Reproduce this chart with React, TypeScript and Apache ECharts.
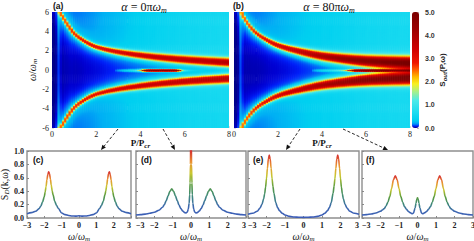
import React, { useEffect, useRef } from 'react';
import * as echarts from 'echarts';

// ---------- heat-map data (a) and (b) ----------
const P_KNOTS = [0.25, 0.35, 0.5, 0.75, 1, 1.5, 2, 3, 4, 5, 6, 7, 8];
const RIDGE_A = [7.4, 6.1, 5.5, 4.6, 3.85, 3.0, 2.45, 1.92, 1.58, 1.32, 1.12, 0.96, 0.83];
const RIDGE_B = [7.4, 6.0, 5.3, 4.5, 3.9, 3.15, 2.6, 1.97, 1.5, 1.2, 0.98, 0.85, 0.76];
const PEAK_A = [2.15, 2.15, 2.2, 2.25, 2.35, 2.5, 2.65, 2.85, 2.95, 3.0, 3.05, 3.1, 3.15];
const PEAK_B = [2.1, 2.1, 2.15, 2.25, 2.4, 2.6, 2.85, 3.2, 3.5, 3.8, 4.1, 4.3, 4.5];
const WIDTH_A = [0.85, 0.85, 0.9, 1.0, 1.15, 1.4, 1.65, 2.1, 2.45, 2.7, 2.9, 3.0, 3.1];
const WIDTH_B = [0.85, 0.85, 0.9, 1.05, 1.25, 1.6, 2.0, 2.6, 3.1, 3.5, 3.9, 4.2, 4.4];
const BG_P = [0, 0.5, 1, 2, 3, 4, 5, 6, 7, 8];
const BG_IN_A = [0, 0.005, 0.01, 0.025, 0.05, 0.08, 0.11, 0.14, 0.16, 0.18];
const BG_OUT_A = [0, 0.07, 0.12, 0.19, 0.27, 0.36, 0.44, 0.5, 0.55, 0.58];
const BG_IN_B = [0, 0.005, 0.01, 0.02, 0.04, 0.07, 0.11, 0.15, 0.19, 0.23];
const BG_OUT_B = [0, 0.07, 0.13, 0.21, 0.3, 0.38, 0.45, 0.52, 0.56, 0.6];
const CENTER_P_A = [2.8, 3.3, 3.7, 4.0, 4.15, 4.4, 5.0, 5.5, 5.75, 5.95, 6.3, 7];
const CENTER_A = [0, 0.3, 0.8, 2.0, 4.5, 5.8, 6, 5.8, 4.0, 1.0, 0.3, 0];
const CENTER_P_B = [3.5, 4.3, 5.0, 5.3, 5.6, 6.0, 6.5, 6.8, 7.2, 7.6, 8];
const CENTER_B = [0, 0.6, 1.4, 3.5, 5.6, 6, 6, 5.2, 3.5, 3.0, 3.0];
const HEAT_X_TICKS = [0, 2, 4, 6, 8];
const HEAT_Y_TICKS = [-6, -4, -2, 0, 2, 4, 6];
const CBAR_TICKS = [0, 1, 2, 3, 4, 5];

// ---------- spectra (c)-(f) ----------
const OMEGA_C = [-3, -2.75, -2.5, -2.3, -2.2, -2.1, -2.0, -1.95, -1.9, -1.85, -1.8, -1.75, -1.7, -1.65, -1.6, -1.55, -1.5, -1.4, -1.3, -1.2, -1.0, -0.8, -0.6, -0.4, -0.2, 0, 0.2, 0.4, 0.6, 0.8, 1.0, 1.2, 1.3, 1.4, 1.5, 1.55, 1.6, 1.65, 1.7, 1.75, 1.8, 1.85, 1.9, 1.95, 2.0, 2.1, 2.2, 2.3, 2.5, 2.75, 3];
const S_C = [0.065, 0.08, 0.1, 0.14, 0.18, 0.24, 0.32, 0.39, 0.47, 0.57, 0.65, 0.69, 0.66, 0.58, 0.49, 0.41, 0.35, 0.25, 0.19, 0.145, 0.075, 0.05, 0.037, 0.03, 0.028, 0.033, 0.028, 0.03, 0.037, 0.05, 0.075, 0.145, 0.19, 0.25, 0.35, 0.41, 0.49, 0.58, 0.66, 0.69, 0.65, 0.57, 0.47, 0.39, 0.32, 0.24, 0.18, 0.14, 0.1, 0.08, 0.065];
const OMEGA_D = [-3, -2.75, -2.5, -2.25, -2.0, -1.75, -1.55, -1.45, -1.35, -1.25, -1.15, -1.05, -0.95, -0.85, -0.75, -0.65, -0.55, -0.45, -0.35, -0.27, -0.2, -0.15, -0.1, -0.07, -0.05, -0.03, -0.015, 0, 0.015, 0.03, 0.05, 0.07, 0.1, 0.15, 0.2, 0.27, 0.35, 0.45, 0.55, 0.65, 0.75, 0.85, 0.95, 1.05, 1.15, 1.25, 1.35, 1.45, 1.55, 1.75, 2.0, 2.25, 2.5, 2.75, 3];
const S_D = [0.045, 0.05, 0.058, 0.07, 0.085, 0.115, 0.16, 0.2, 0.26, 0.33, 0.4, 0.435, 0.4, 0.33, 0.26, 0.19, 0.14, 0.105, 0.08, 0.075, 0.09, 0.13, 0.22, 0.35, 0.52, 0.8, 1.15, 1.4, 1.15, 0.8, 0.52, 0.35, 0.22, 0.13, 0.09, 0.075, 0.08, 0.105, 0.14, 0.19, 0.26, 0.33, 0.4, 0.435, 0.4, 0.33, 0.26, 0.2, 0.16, 0.115, 0.085, 0.07, 0.058, 0.05, 0.045];
const OMEGA_E = [-3, -2.75, -2.5, -2.35, -2.25, -2.15, -2.1, -2.05, -2.0, -1.95, -1.9, -1.85, -1.8, -1.75, -1.7, -1.65, -1.6, -1.5, -1.4, -1.3, -1.15, -1.0, -0.75, -0.5, -0.25, 0, 0.25, 0.5, 0.75, 1.0, 1.15, 1.3, 1.4, 1.5, 1.6, 1.65, 1.7, 1.75, 1.8, 1.85, 1.9, 1.95, 2.0, 2.05, 2.1, 2.15, 2.25, 2.35, 2.5, 2.75, 3];
const S_E = [0.055, 0.07, 0.1, 0.15, 0.2, 0.29, 0.36, 0.46, 0.59, 0.74, 0.88, 0.94, 0.88, 0.74, 0.59, 0.47, 0.37, 0.23, 0.155, 0.11, 0.07, 0.045, 0.025, 0.015, 0.011, 0.01, 0.011, 0.015, 0.025, 0.045, 0.07, 0.11, 0.155, 0.23, 0.37, 0.47, 0.59, 0.74, 0.88, 0.94, 0.88, 0.74, 0.59, 0.46, 0.36, 0.29, 0.2, 0.15, 0.1, 0.07, 0.055];
const OMEGA_F = [-3, -2.75, -2.5, -2.25, -2.0, -1.9, -1.8, -1.7, -1.6, -1.5, -1.4, -1.3, -1.2, -1.1, -1.0, -0.9, -0.8, -0.7, -0.6, -0.5, -0.4, -0.3, -0.22, -0.13, -0.08, -0.04, 0, 0.04, 0.08, 0.13, 0.22, 0.3, 0.4, 0.5, 0.6, 0.7, 0.8, 0.9, 1.0, 1.1, 1.2, 1.3, 1.4, 1.5, 1.6, 1.7, 1.8, 1.9, 2.0, 2.25, 2.5, 2.75, 3];
const S_F = [0.045, 0.05, 0.06, 0.075, 0.1, 0.12, 0.14, 0.18, 0.235, 0.32, 0.44, 0.57, 0.63, 0.57, 0.44, 0.32, 0.235, 0.17, 0.13, 0.1, 0.08, 0.065, 0.07, 0.15, 0.22, 0.28, 0.3, 0.28, 0.22, 0.15, 0.07, 0.065, 0.08, 0.1, 0.13, 0.17, 0.235, 0.32, 0.44, 0.57, 0.63, 0.57, 0.44, 0.32, 0.235, 0.18, 0.14, 0.12, 0.1, 0.075, 0.06, 0.05, 0.045];
const SPEC_X_TICKS = [-3, -2, -1, 0, 1, 2, 3];
const SPEC_Y_TICKS = [0, 0.2, 0.4, 0.6, 0.8, 1.0];
const SPEC_PANELS = [
  { label: '(c)', omega: OMEGA_C, s: S_C, top: 0.69 },
  { label: '(d)', omega: OMEGA_D, s: S_D, top: 1.0 },
  { label: '(e)', omega: OMEGA_E, s: S_E, top: 0.94 },
  { label: '(f)', omega: OMEGA_F, s: S_F, top: 0.63 },
];

// ---------- styling ----------
const JET_STOPS: [number, string][] = [
  [0.0, '#000080'], [0.04, '#0000d0'], [0.08, '#0020f8'], [0.14, '#0070f8'], [0.22, '#00b0f4'],
  [0.35, '#00d0f0'], [0.7, '#20dcf0'], [1.2, '#50eae8'], [1.6, '#b0f080'], [1.9, '#f8f020'],
  [2.2, '#ffb800'], [2.5, '#ff6000'], [2.8, '#f01800'], [3.4, '#d00000'], [4.2, '#a00000'], [5.0, '#7a0000'],
];
const LINE_COLORS = ['#3c5bb8', '#3d67b0', '#3f8a78', '#5c9c3c', '#c9c832', '#ea9332', '#d63030'];
const SERIF = 'Liberation Serif';
const SANS = 'Liberation Sans';
const HEAT_GRIDS = [
  { left: 52, top: 12, width: 177, height: 116 },
  { left: 234, top: 12, width: 176, height: 116 },
];
const SPEC_GRIDS = [
  { left: 27, top: 151, width: 104, height: 67 },
  { left: 136, top: 151, width: 110, height: 67 },
  { left: 248, top: 151, width: 111, height: 67 },
  { left: 362, top: 151, width: 111, height: 67 },
];
const CBAR = { left: 412, top: 12, width: 7, height: 116 };
const ARROWS = [[118, 129, 101, 150], [163, 129, 175, 150], [300, 129, 286, 150], [343, 129, 388, 150]];
const LABEL_POS = [[33, 160], [141, 160], [253, 160], [366, 160]];

function hex(c: string) { return [1, 3, 5].map((i) => parseInt(c.slice(i, i + 2), 16)); }
function jetColors() {
  const out: string[] = [];
  for (let k = 0; k <= 250; k++) {
    const v = (k / 250) * 5;
    let i = 0;
    while (i < JET_STOPS.length - 2 && v > JET_STOPS[i + 1][0]) i++;
    const [v0, c0] = JET_STOPS[i], [v1, c1] = JET_STOPS[i + 1];
    const t = Math.min(1, Math.max(0, (v - v0) / (v1 - v0)));
    const a = hex(c0), b = hex(c1);
    out.push('rgb(' + a.map((x, j) => Math.round(x + (b[j] - x) * t)).join(',') + ')');
  }
  return out;
}

function interp(xs: number[], ys: number[], x: number): number {
  const n = xs.length;
  if (x <= xs[0]) return ys[0];
  if (x >= xs[n - 1]) return ys[n - 1];
  let i = 0;
  while (x > xs[i + 1]) i++;
  const h = xs[i + 1] - xs[i];
  const t = (x - xs[i]) / h;
  const d = (k: number) => {
    if (k === 0) return (ys[1] - ys[0]) / (xs[1] - xs[0]);
    if (k === n - 1) return (ys[n - 1] - ys[n - 2]) / (xs[n - 1] - xs[n - 2]);
    const s0 = (ys[k] - ys[k - 1]) / (xs[k] - xs[k - 1]);
    const s1 = (ys[k + 1] - ys[k]) / (xs[k + 1] - xs[k]);
    if (s0 * s1 <= 0) return 0;
    return 2 / (1 / s0 + 1 / s1);
  };
  const m0 = d(i) * h, m1 = d(i + 1) * h;
  const t2 = t * t, t3 = t2 * t;
  return (2 * t3 - 3 * t2 + 1) * ys[i] + (t3 - 2 * t2 + t) * m0 + (-2 * t3 + 3 * t2) * ys[i + 1] + (t3 - t2) * m1;
}

const DP = 0.1, DW = 0.1;
const PX_P = 177 / 8, PX_W = 116 / 12;
function ridgeAt(P: number, W: number, ridge: number[], peak: number[], width: number[]) {
  const r = interp(P_KNOTS, ridge, P);
  const slope = (interp(P_KNOTS, ridge, P + 0.05) - interp(P_KNOTS, ridge, P - 0.05)) / 0.1;
  const s = (slope * PX_W) / PX_P;
  const norm = Math.sqrt(1 + s * s);
  const A = interp(P_KNOTS, peak, P), sg = interp(P_KNOTS, width, P);
  let v = 0;
  for (const sign of [1, -1]) {
    const d = (Math.abs(W - sign * r) * PX_W) / norm;
    v += A * Math.exp(-(d * d) / (2 * sg * sg)) + 0.28 / (1 + (d / 5) * (d / 5));
  }
  return v;
}
function buildHeat(ridge: number[], peak: number[], width: number[], bgIn: number[], bgOut: number[], cP: number[], cA: number[]) {
  const data: number[][] = [];
  for (let i = 0; i <= 80; i++) {
    const P = i * DP;
    const r = interp(P_KNOTS, ridge, P);
    const bi = interp(BG_P, bgIn, P), bo = interp(BG_P, bgOut, P);
    const c = interp(cP, cA, P);
    for (let j = 0; j <= 120; j++) {
      const W = -6 + j * DW;
      let v = 0;
      for (const off of [-0.03, 0, 0.03]) {
        for (const wo of [-0.025, 0, 0.025]) v = Math.max(v, ridgeAt(P + off, W + wo, ridge, peak, width));
      }
      const t = 1 / (1 + Math.exp(-(Math.abs(W) - r) / 0.35));
      v += bi + (bo - bi) * t;
      v += c * Math.exp(-(W * W) / (2 * 0.08 * 0.08));
      data.push([P, +W.toFixed(2), Math.max(0, v)]);
    }
  }
  return data;
}

const minusFmt = (v: number) => (v < 0 ? '\u2212' + Math.abs(v) : String(v));

export default function App() {
  const ref = useRef<HTMLDivElement>(null);
  useEffect(() => {
    if (!ref.current) return;
    const chart = echarts.init(ref.current, undefined, { renderer: 'svg' });
    const heatA = buildHeat(RIDGE_A, PEAK_A, WIDTH_A, BG_IN_A, BG_OUT_A, CENTER_P_A, CENTER_A);
    const heatB = buildHeat(RIDGE_B, PEAK_B, WIDTH_B, BG_IN_B, BG_OUT_B, CENTER_P_B, CENTER_B);

    const italicRich = {
      i: { fontStyle: 'italic', fontFamily: SERIF, fontSize: 10, color: '#111' },
      s: { fontStyle: 'italic', fontFamily: SERIF, fontSize: 7, color: '#111', padding: [5, 0, 0, 0] },
      b: { fontWeight: 'bold', fontFamily: SERIF, fontSize: 9, color: '#111' },
      bs: { fontWeight: 'bold', fontStyle: 'italic', fontFamily: SERIF, fontSize: 7, color: '#111', padding: [5, 0, 0, 0] },
      n: { fontFamily: SERIF, fontSize: 10, color: '#111' },
    };

    const grids: any[] = [];
    const xAxes: any[] = [];
    const yAxes: any[] = [];
    const series: any[] = [];
    const visualMaps: any[] = [];

    HEAT_GRIDS.forEach((g, k) => {
      grids.push({ ...g, outerBoundsMode: 'none', containLabel: false, show: false });
      xAxes.push({
        gridIndex: k, type: 'value', position: 'bottom', min: HEAT_X_TICKS[0], max: HEAT_X_TICKS[HEAT_X_TICKS.length - 1], interval: 2,
        axisLine: { show: false, onZero: false }, splitLine: { show: false },
        axisTick: { inside: true, length: 2, lineStyle: { color: '#ddd' } },
        axisLabel: { fontFamily: SERIF, fontSize: 8, color: '#222', margin: 2 },
        name: '{b|P/P}{bs|cr}', nameLocation: 'middle', nameGap: 8,
        nameTextStyle: { rich: italicRich },
      });
      yAxes.push({
        gridIndex: k, type: 'value', position: 'left', min: HEAT_Y_TICKS[0], max: HEAT_Y_TICKS[HEAT_Y_TICKS.length - 1], interval: 2,
        axisLine: { show: false, onZero: false }, splitLine: { show: false },
        axisTick: { inside: true, length: 2, lineStyle: { color: '#ddd' } },
        axisLabel: { show: k === 0, fontFamily: SERIF, fontSize: 8, color: '#222', margin: 3 },
        name: k === 0 ? '{i|ω}{n|/}{i|ω}{s|m}' : '', nameLocation: 'middle', nameGap: 9,
        nameTextStyle: { rich: italicRich },
      });
      series.push({
        type: 'custom', xAxisIndex: k, yAxisIndex: k, silent: true, clip: true, progressive: 0,
        dimensions: ['P', 'W', 'v'], encode: { x: 0, y: 1 },
        data: k === 0 ? heatA : heatB,
        renderItem: (params: any, api: any) => {
          const p = api.value(0), w = api.value(1);
          const tl = api.coord([p - DP / 2, w + DW / 2]);
          const br = api.coord([p + DP / 2, w - DW / 2]);
          return {
            type: 'rect',
            shape: { x: tl[0], y: tl[1], width: br[0] - tl[0] + 0.6, height: br[1] - tl[1] + 0.6 },
            style: { fill: api.visual('color') },
          };
        },
      });
    });

    SPEC_PANELS.forEach((panel, k) => {
      const gi = k + 2;
      grids.push({ ...SPEC_GRIDS[k], outerBoundsMode: 'none', containLabel: false, show: true, borderColor: '#8e8e8e', borderWidth: 1.4 });
      xAxes.push({
        gridIndex: gi, type: 'value', position: 'bottom', min: SPEC_X_TICKS[0], max: SPEC_X_TICKS[SPEC_X_TICKS.length - 1], interval: 1,
        axisLine: { show: false, onZero: false }, splitLine: { show: false },
        axisTick: { inside: true, length: 2, lineStyle: { color: '#888' } },
        axisLabel: {
          fontFamily: SERIF, fontWeight: 'bold', fontSize: 8, color: '#222', margin: 3, formatter: minusFmt,
          alignMinLabel: k === 0 ? 'center' : 'left', alignMaxLabel: k === 3 ? 'center' : 'right',
        },
        name: '{i|ω}{n|/}{i|ω}{s|m}', nameLocation: 'middle', nameGap: 12,
        nameTextStyle: { rich: italicRich },
      });
      yAxes.push({
        gridIndex: gi, type: 'value', position: 'left', min: SPEC_Y_TICKS[0], max: SPEC_Y_TICKS[SPEC_Y_TICKS.length - 1], interval: 0.2,
        axisLine: { show: false, onZero: false }, splitLine: { show: false },
        axisTick: { inside: true, length: 2, lineStyle: { color: '#888' } },
        axisLabel: { show: k === 0, fontFamily: SERIF, fontWeight: 'bold', fontSize: 8, color: '#222', margin: 3, formatter: (v: number) => v.toFixed(1) },
        name: k === 0 ? '{n|S}{s|D}{n|(k,ω)}' : '', nameLocation: 'middle', nameGap: 16,
        nameTextStyle: { rich: italicRich },
      });
      series.push({
        type: 'line', xAxisIndex: gi, yAxisIndex: gi, showSymbol: false, silent: true, clip: true,
        smooth: 0.3, smoothMonotone: 'x',
        lineStyle: { width: 1.6 },
        data: panel.omega.map((w, i) => [w, panel.s[i]]),
      });
      visualMaps.push({
        type: 'continuous', show: false, seriesIndex: series.length - 1, dimension: 1,
        min: 0, max: panel.top, inRange: { color: LINE_COLORS }, outOfRange: { color: ['#d63030'] },
      });
    });

    // colour bar axis
    grids.push({ ...CBAR, outerBoundsMode: 'none', containLabel: false, show: false });
    xAxes.push({ gridIndex: 6, type: 'value', show: false, min: 0, max: 1 });
    yAxes.push({
      gridIndex: 6, type: 'value', position: 'right', min: CBAR_TICKS[0], max: CBAR_TICKS[CBAR_TICKS.length - 1], interval: 1,
      axisLine: { show: false, onZero: false }, splitLine: { show: false },
      axisTick: { inside: true, length: 2, lineStyle: { color: '#bbb' } },
      axisLabel: { fontFamily: SANS, fontWeight: 'bold', fontSize: 7, color: '#333', margin: 6, formatter: (v: number) => v.toFixed(1) },
      name: '{b|S}{bs|out}{b|(P,ω)}', nameLocation: 'middle', nameGap: 18, nameRotate: 90,
      nameTextStyle: {
        rich: {
          b: { fontWeight: 'bold', fontFamily: SANS, fontSize: 8, color: '#222' },
          bs: { fontWeight: 'bold', fontStyle: 'italic', fontFamily: SANS, fontSize: 6, color: '#222', padding: [4, 0, 0, 0] },
        },
      },
    });

    visualMaps.unshift({
      type: 'continuous', show: true, seriesIndex: [0, 1], dimension: 2, min: 0, max: 5,
      calculable: false, hoverLink: false, padding: 0,
      left: CBAR.left, top: CBAR.top, itemWidth: CBAR.width, itemHeight: CBAR.height,
      inRange: { color: jetColors() }, outOfRange: { color: ['#f4c6c6'] },
    });

    const graphics: any[] = [];
    for (const [x1, y1, x2, y2] of ARROWS) {
      const dx = x2 - x1, dy = y2 - y1, L = Math.hypot(dx, dy);
      const ux = dx / L, uy = dy / L;
      const bx = x2 - ux * 5, by = y2 - uy * 5;
      graphics.push({ type: 'line', silent: true, z: 100, shape: { x1, y1, x2: bx, y2: by }, style: { stroke: '#111', lineWidth: 0.9, lineDash: [3, 2] } });
      graphics.push({ type: 'polygon', silent: true, z: 100, shape: { points: [[x2, y2], [bx - uy * 2.2, by + ux * 2.2], [bx + uy * 2.2, by - ux * 2.2]] }, style: { fill: '#111' } });
    }
    const titleRich = {
      i: { fontStyle: 'italic', fontFamily: SERIF, fontSize: 12, fill: '#111' },
      n: { fontFamily: SERIF, fontSize: 12, fill: '#111' },
      s: { fontStyle: 'italic', fontFamily: SERIF, fontSize: 8, fill: '#111', padding: [6, 0, 0, 0] },
    };
    graphics.push({ type: 'text', x: 144, y: 7, z: 100, style: { text: '{i|α}{n| = 0π}{i|ω}{s|m}', rich: titleRich, align: 'center', verticalAlign: 'middle' } });
    graphics.push({ type: 'text', x: 329, y: 7, z: 100, style: { text: '{i|α}{n| = 80π}{i|ω}{s|m}', rich: titleRich, align: 'center', verticalAlign: 'middle' } });
    graphics.push({ type: 'text', x: 53, y: 6, z: 100, style: { text: '(a)', fontFamily: SANS, fontWeight: 'bold', fontSize: 8.5, fill: '#111', verticalAlign: 'middle' } });
    graphics.push({ type: 'text', x: 233, y: 6, z: 100, style: { text: '(b)', fontFamily: SANS, fontWeight: 'bold', fontSize: 8.5, fill: '#111', verticalAlign: 'middle' } });
    SPEC_PANELS.forEach((p, k) => {
      graphics.push({ type: 'text', x: LABEL_POS[k][0], y: LABEL_POS[k][1], z: 100, style: { text: p.label, fontFamily: SANS, fontWeight: 'bold', fontSize: 8.5, fill: '#111', verticalAlign: 'middle' } });
    });

    chart.setOption({
      animation: false,
      backgroundColor: '#fff',
      grid: grids,
      xAxis: xAxes,
      yAxis: yAxes,
      visualMap: visualMaps,
      series,
      graphic: graphics,
    });
    return () => chart.dispose();
  }, []);
  return <div ref={ref} style={{ position: 'fixed', left: 0, top: 0, width: 474, height: 241 }} />;
}
